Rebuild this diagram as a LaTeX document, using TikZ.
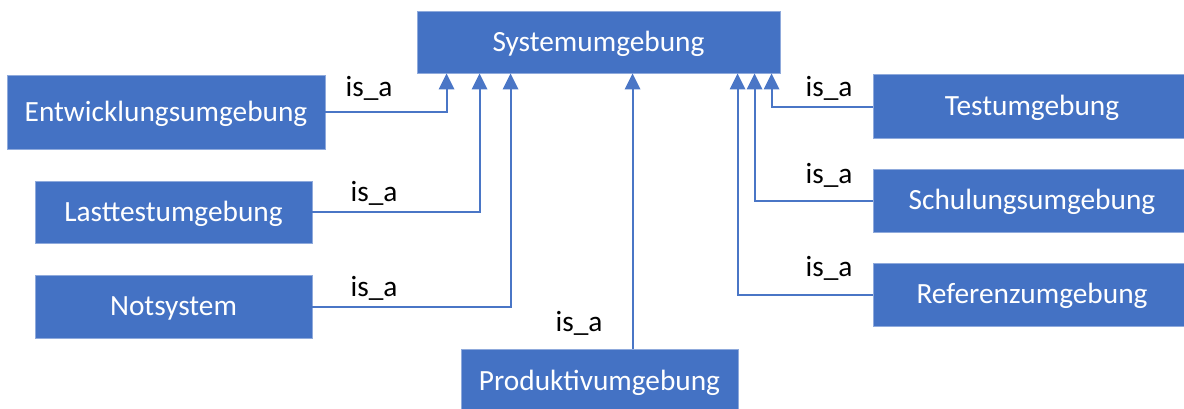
\documentclass[tikz,border=0pt]{standalone}
\usepackage{fontspec}
\setmainfont{Carlito}
\usetikzlibrary{arrows.meta,calc}
\definecolor{boxblue}{HTML}{4472C4}
\definecolor{lineblue}{HTML}{4A76C6}
\tikzset{
  box/.style={fill=boxblue, draw=boxblue!60!white, line width=0.6pt, text=white, inner sep=0pt,
    text height=14pt, text depth=0pt, font=\fontsize{22}{26}\selectfont},
  isa/.style={text=black, inner sep=0pt, font=\fontsize{22}{26}\selectfont},
  arr/.style={draw=lineblue, line width=1.5pt, -{Triangle[width=11.5pt,length=12pt]}},
}
\begin{document}
\begin{tikzpicture}[x=0.75pt,y=-0.75pt]
\useasboundingbox (0,0) rectangle (1184,408);
% boxes
\node[box, minimum width=272.25pt, minimum height=46.5pt] (S) at (598.5,42) {Systemumgebung};
\node[box, minimum width=238.5pt, minimum height=55.5pt] (E) at (166,112) {Entwicklungsumgebung};
\node[box, minimum width=207.75pt, minimum height=46.5pt] (L) at (173.5,212) {Lasttestumgebung};
\node[box, minimum width=207.75pt, minimum height=47.25pt] (N) at (173.5,306.5) {Notsystem};
\node[box, minimum width=207.75pt, minimum height=48pt] (P) at (599.5,381) {Produktivumgebung};
\node[box, minimum width=238.5pt, minimum height=48pt] (T) at (1032,106) {Testumgebung};
\node[box, minimum width=238.5pt, minimum height=47.25pt] (Sc) at (1032,200.5) {Schulungsumgebung};
\node[box, minimum width=238.5pt, minimum height=47.25pt] (R) at (1032,294.5) {Referenzumgebung};
% attachment points on Systemumgebung
\coordinate (aE) at ($(S.south west)+(30,0)$);
\coordinate (aL) at ($(S.south west)+(63,0)$);
\coordinate (aN) at ($(S.south west)+(94,0)$);
\coordinate (aP) at ($(S.south west)+(216,0)$);
\coordinate (aR) at ($(S.south west)+(321,0)$);
\coordinate (aSc) at ($(S.south west)+(338,0)$);
\coordinate (aT) at ($(S.south west)+(355,0)$);
% connectors
\draw[arr] (E.east) -| (aE);
\draw[arr] (L.east) -| (aL);
\draw[arr] (N.east) -| (aN);
\draw[arr] (P.north -| aP) -- (aP);
\draw[arr] ($(T.west)+(0,1)$) -| (aT);
\draw[arr] (Sc.west) -| (aSc);
\draw[arr] (R.west) -| (aR);
% labels
\node[isa] (lE) at (369,88) {is\_a};
\node[isa] (lL) at (374,193) {is\_a};
\node[isa] (lN) at (374,288) {is\_a};
\node[isa] (lP) at (579,323) {is\_a};
\node[isa] (lT) at (829,88) {is\_a};
\node[isa] (lSc) at (829,175) {is\_a};
\node[isa] (lR) at (829,268) {is\_a};
\end{tikzpicture}
\end{document}
